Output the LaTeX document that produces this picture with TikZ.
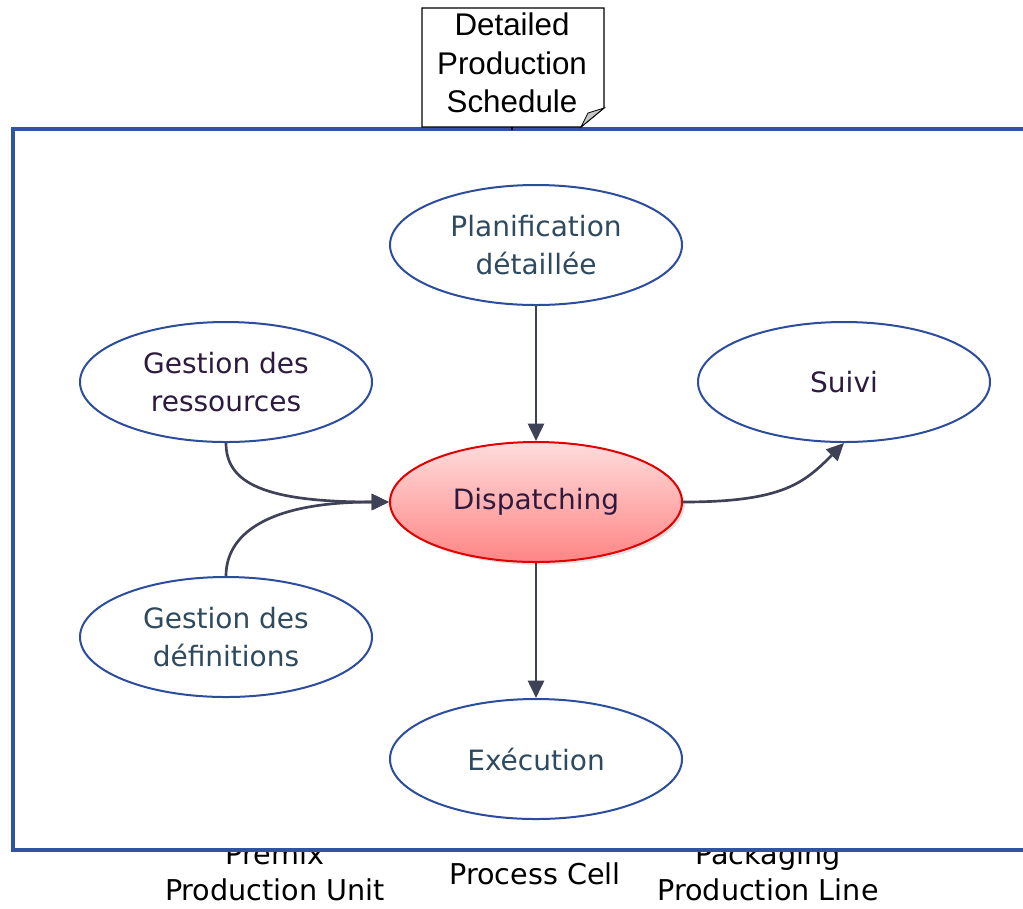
\documentclass[tikz,border=0pt]{standalone}
\usepackage{fontspec}
\setmainfont{DejaVu Sans}
\newfontfamily\arialf{Liberation Sans}
\usetikzlibrary{shapes.geometric,arrows.meta,shadows}
\definecolor{frameblue}{HTML}{2F55A2}
\definecolor{ellblue}{HTML}{2C4C9C}
\definecolor{tealtext}{HTML}{2F4A5E}
\definecolor{purptext}{HTML}{2D1B3F}
\definecolor{arrowgray}{HTML}{3F4256}
\definecolor{dispred}{HTML}{E00000}
\definecolor{disptop}{HTML}{FFDCDC}
\definecolor{dispbot}{HTML}{FF8585}
\begin{document}
\begin{tikzpicture}[x=0.75pt,y=-0.75pt,
  ell/.style={ellipse,draw=ellblue,line width=1.5pt,fill=white,minimum width=219pt,minimum height=90pt,inner sep=0pt,align=center,font=\fontsize{21}{28.5}\selectfont},
  conn/.style={draw=arrowgray,line width=2pt,-{Triangle[length=13pt,width=12pt]}},
  bottomtxt/.style={align=center,inner sep=0pt,font=\fontsize{21.5}{27}\selectfont,text=black}]
\useasboundingbox (0,0) rectangle (1023,908);
% bottom labels (partly covered by the frame)
\node[bottomtxt] (premix) at (275,872) {Premix\\Production Unit};
\node[bottomtxt] (pcell) at (535,874) {Process Cell};
\node[bottomtxt] (pack) at (768,872) {Packaging\\Production Line};
% frame
\draw[frameblue,line width=2.3pt,fill=white] (13,129) rectangle (1040,850);
% note
\coordinate (nb) at (512,127);
\coordinate (ft) at (512,130);
\draw[black,line width=0.8pt,fill=white] (422,8) -- (604,8) -- (604,108) -- (581,127) -- (422,127) -- cycle;
\draw[black,line width=0.6pt,fill=gray!45] (604,108) -- (588,113) -- (581,127) -- cycle;
\node[align=center,inner sep=0pt,font=\arialf\fontsize{23.5}{29}\selectfont] (note) at (512,63) {Detailed\\Production\\Schedule};
\draw[black,line width=0.8pt] (nb) -- (ft);
% ellipses
\node[ell,text=tealtext] (plan) at (536,245) {Planification\\détaillée};
\node[ell,text=purptext] (res) at (226,382) {Gestion des\\ressources};
\node[ell,text=purptext] (suivi) at (844,382) {Suivi};
\node[ell,text=tealtext] (def) at (226,637) {Gestion des\\définitions};
\node[ell,text=tealtext] (exec) at (536,759) {Exécution};
\node[ell,draw=dispred,text=purptext,top color=disptop,bottom color=dispbot,drop shadow={opacity=0.25,shadow xshift=2pt,shadow yshift=-2pt}] (disp) at (536,502) {Dispatching};
% connectors
\draw[conn] (plan.south) -- (disp.north);
\draw[conn] (disp.south) -- (exec.north);
\draw[conn] (res.south) .. controls +(0,40) and +(-125,0) .. (disp.west);
\draw[conn] (def.north) .. controls +(0,-40) and +(-125,0) .. (disp.west);
\draw[conn] (disp.east) .. controls +(100,0) and +(-40,40) .. (suivi.south);
\end{tikzpicture}
\end{document}
